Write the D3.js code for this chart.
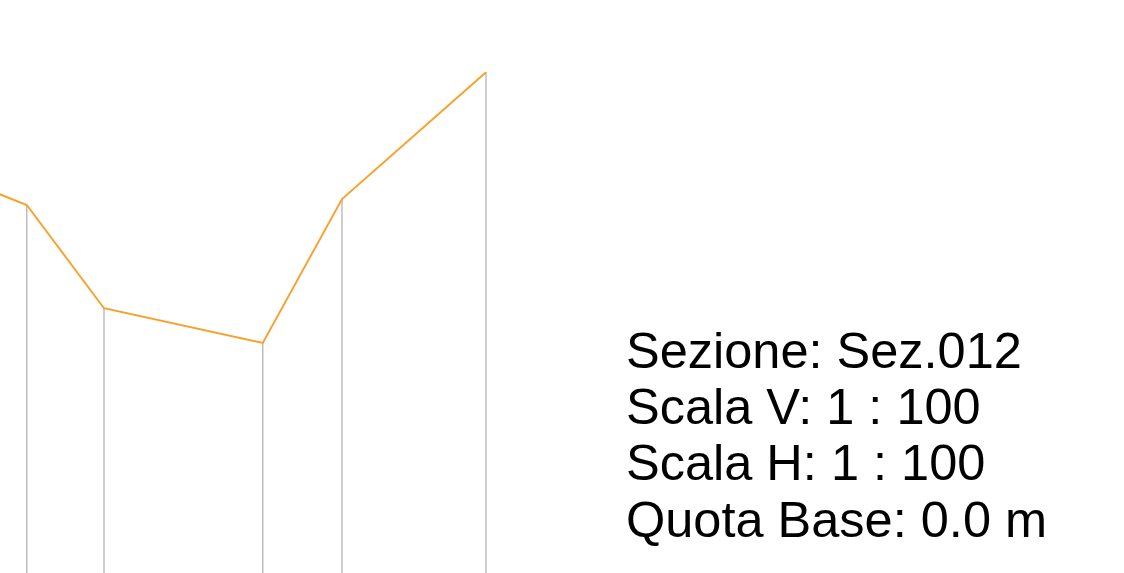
<!DOCTYPE html>
<html>
<head>
<meta charset="utf-8">
<script src="https://cdn.jsdelivr.net/npm/d3@7"></script>
<style>
html,body{margin:0;padding:0;background:#fff;overflow:hidden;}
svg{display:block;}
</style>
</head>
<body>
<svg id="chart" width="1124" height="573"></svg>
<script>
// Progressive distances (m) and ground elevations (m) of the section points
const distances = [0, 2.02, 3.95, 7.92, 9.9, 13.5];
const elevations = [10.0, 9.2, 6.62, 5.75, 9.35, 12.52];
const infoLines = ["Sezione: Sez.012", "Scala V: 1 : 100", "Scala H: 1 : 100", "Quota Base: 0.0 m"];
const baseElevation = 0;

const W = 1124, H = 573;
const svg = d3.select("#chart");

const pxPerM = 40;
const x = d3.scaleLinear().domain([0, 1]).range([-54, -54 + pxPerM]);
const y = d3.scaleLinear().domain([baseElevation, 1]).range([H, H - pxPerM]);

const pts = distances.map((d, i) => ({d, z: elevations[i]}));

// vertical lines from each point down to base
svg.append("g").selectAll("line").data(pts).join("line")
  .attr("x1", p => x(p.d)).attr("x2", p => x(p.d))
  .attr("y1", p => y(p.z)).attr("y2", y(baseElevation))
  .attr("stroke", "#adadad").attr("stroke-width", 1.2);

// ground profile
svg.append("path").datum(pts)
  .attr("d", d3.line().x(p => x(p.d)).y(p => y(p.z)))
  .attr("fill", "none").attr("stroke", "#f7a02a").attr("stroke-width", 1.9)
  .attr("stroke-linejoin", "miter");

// info text
svg.append("g").selectAll("text").data(infoLines).join("text")
  .attr("x", 626).attr("y", (d, i) => 367.5 + i * 56.4)
  .attr("font-family", "Liberation Sans, Arial, sans-serif")
  .attr("font-size", 50.5).attr("fill", "#000")
  .text(d => d);
</script>
</body>
</html>
